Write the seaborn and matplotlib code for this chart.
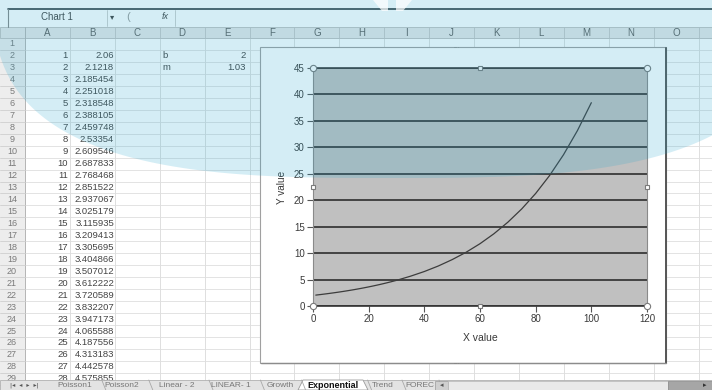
import numpy as np
import seaborn as sns
import matplotlib.pyplot as plt
from matplotlib.patches import Rectangle, Polygon

# --- data ---
# sheet columns A and B (rows 2..29)
col_a = list(range(1, 29))
col_b = ['2.06', '2.1218', '2.185454', '2.251018', '2.318548', '2.388105', '2.459748',
         '2.53354', '2.609546', '2.687833', '2.768468', '2.851522', '2.937067', '3.025179',
         '3.115935', '3.209413', '3.305695', '3.404866', '3.507012', '3.612222', '3.720589',
         '3.832207', '3.947173', '4.065588', '4.187556', '4.313183', '4.442578', '4.575855']
param_names = ['b', 'm']
param_values = ['2', '1.03']

# curve points: table rows, then values
curve_x = col_a + [30, 35, 40, 45, 50, 55, 60, 65, 70, 75, 80, 85, 90, 95, 100]
curve_y = [float(v) for v in col_b] + [4.85, 5.63, 6.52, 7.56, 8.77, 10.16, 11.78, 13.66,
                                       15.84, 18.36, 21.28, 24.67, 28.60, 33.16, 38.44]

x_ticks = [0, 20, 40, 60, 80, 100, 120]
y_ticks = [0, 5, 10, 15, 20, 25, 30, 35, 40, 45]
col_names = ['A', 'B', 'C', 'D', 'E', 'F', 'G', 'H', 'I', 'J', 'K', 'L', 'M', 'N', 'O']
sheet_tabs = ['Poisson1', 'Poisson2', 'Linear - 2', 'LINEAR- 1', 'Growth', 'Exponential', 'Trend', 'FOREC']
tab_centers = [75, 122, 177, 231, 280, 333, 383, 420]

sns.set_style('white')
plt.rcParams['font.family'] = ['Liberation Sans', 'DejaVu Sans']

W, H = 712, 390
fig = plt.figure(figsize=(W / 100, H / 100), dpi=100)

# background axes in pixel coordinates for the worksheet
bg = fig.add_axes([0, 0, 1, 1], zorder=0)
bg.set_xlim(0, W)
bg.set_ylim(H, 0)
bg.axis('off')

row_hdr_w = 25
col_w = 44.9
hdr_top, hdr_bot = 27, 38
row_h = 11.96
txt_col = '#444444'


def row_center(r):
    return hdr_bot + (r - 1) * row_h + row_h / 2


bg.add_patch(Rectangle((0, 0), W, H, color='white', zorder=0))

# cell grid
for i in range(len(col_names) + 2):
    x = row_hdr_w + i * col_w
    bg.plot([x, x], [hdr_bot, 380], color='#d9d9d9', lw=0.6, zorder=1)
for r in range(31):
    y = hdr_bot + r * row_h
    bg.plot([0, W], [y, y], color='#dedede', lw=0.6, zorder=1)

# row headers
bg.add_patch(Rectangle((0, hdr_bot), row_hdr_w, 380 - hdr_bot, fc='#ededed', ec='none', zorder=1.5))
bg.plot([row_hdr_w, row_hdr_w], [hdr_top, 380], color='#b5b5b5', lw=0.7, zorder=1.6)
for r in range(1, 30):
    bg.text(12, row_center(r), str(r), ha='center', va='center', fontsize=6.5, color='#7a7a7a', zorder=2)
    bg.plot([0, row_hdr_w], [hdr_bot + r * row_h] * 2, color='#cfcfcf', lw=0.6, zorder=1.6)

# column headers
bg.add_patch(Rectangle((0, hdr_top), W, hdr_bot - hdr_top, fc='#e7e7e7', ec='#bdbdbd', lw=0.6, zorder=1.5))
for i, name in enumerate(col_names):
    x0 = row_hdr_w + i * col_w
    bg.text(x0 + col_w / 2, (hdr_top + hdr_bot) / 2 + 0.5, name, ha='center', va='center',
            fontsize=7, color='#606060', zorder=2)
    bg.plot([x0 + col_w, x0 + col_w], [hdr_top, hdr_bot], color='#c4c4c4', lw=0.6, zorder=1.6)

# formula bar
bg.plot([8, W], [9, 9], color='#2f3b40', lw=1.2, zorder=2)
bg.plot([8, 8], [9, hdr_top], color='#888888', lw=0.8, zorder=2)
bg.text(57, 17.5, 'Chart 1', ha='center', va='center', fontsize=7, color=txt_col, zorder=2)
bg.text(112, 17.5, '▾', ha='center', va='center', fontsize=6, color=txt_col, zorder=2)
bg.plot([107, 107], [10, 26], color='#c8c8c8', lw=0.6, zorder=2)
bg.plot([175, 175], [10, 26], color='#c8c8c8', lw=0.6, zorder=2)
bg.text(128, 17, '(', ha='center', va='center', fontsize=8, color='#9a9a9a', zorder=2)
bg.text(165, 16.5, 'fx', ha='center', va='center', fontsize=6.5, style='italic', color=txt_col, zorder=2)

# sheet values
for i, (a, b) in enumerate(zip(col_a, col_b)):
    y = row_center(i + 2)
    bg.text(68, y, str(a), ha='right', va='center', fontsize=6.8, color=txt_col, zorder=2)
    bg.text(114, y, b, ha='right', va='center', fontsize=6.8, color=txt_col, zorder=2)
for i, (n, v) in enumerate(zip(param_names, param_values)):
    y = row_center(i + 2)
    bg.text(162, y, n, ha='left', va='center', fontsize=6.8, color=txt_col, zorder=2)
    bg.text(246, y, v, ha='right', va='center', fontsize=6.8, color=txt_col, zorder=2)

# sheet tab bar
bg.add_patch(Rectangle((0, 380), W, H - 380, fc='#e3e3e3', ec='#b0b0b0', lw=0.6, zorder=3))
bg.text(24, 385, '|◂  ◂  ▸  ▸|', ha='center', va='center', fontsize=4.5, color='#555555', zorder=4,
        family=['DejaVu Sans'])
for name, cx in zip(sheet_tabs, tab_centers):
    active = name == 'Exponential'
    if active:
        bg.add_patch(Polygon([[303, 380], [363, 380], [368, 390], [298, 390]], closed=True,
                             fc='white', ec='#9a9a9a', lw=0.6, zorder=3.5))
    bg.text(cx, 385.5, name, ha='center', va='center', fontsize=6.5 if active else 6,
            color='#111111' if active else '#777777', weight='bold' if active else 'normal', zorder=4)
    bg.plot([cx + len(name) * 2.6 + 6, cx + len(name) * 2.6 + 10], [380, 390], color='#a8a8a8', lw=0.6, zorder=4)
# horizontal scroll bar
bg.add_patch(Rectangle((435, 380.5), 13, 9.5, fc='#cfcfcf', ec='#9a9a9a', lw=0.5, zorder=4))
bg.text(441.5, 385.5, '◂', ha='center', va='center', fontsize=5, color='#555555', zorder=5, family=['DejaVu Sans'])
bg.add_patch(Rectangle((448, 380.5), 220, 9.5, fc='#e9e9e9', ec='#b5b5b5', lw=0.5, zorder=4))
bg.add_patch(Rectangle((668, 380.5), 44, 9.5, fc='#a6a6a6', ec='#8a8a8a', lw=0.5, zorder=4))
bg.text(705, 385.5, '▸', ha='center', va='center', fontsize=5, color='#333333', zorder=5, family=['DejaVu Sans'])

# chart area
bg.add_patch(Rectangle((260, 46.5), 406, 316.5, fc='white', ec='#a0a0a0', lw=0.8, zorder=5))
bg.plot([666, 666], [48, 363], color='#555555', lw=1.4, zorder=6)
bg.plot([261, 666], [363, 363], color='#8c8c8c', lw=1.0, zorder=6)
bg.text(457, 46, '....', ha='center', va='center', fontsize=4, color='#777777', zorder=6)
bg.text(457, 362, '....', ha='center', va='center', fontsize=4, color='#777777', zorder=6)

# plot area
px0, px1, py0, py1 = 313, 647, 68, 306
ax = fig.add_axes([px0 / W, (H - py1) / H, (px1 - px0) / W, (py1 - py0) / H], zorder=2)
ax.set_facecolor('#c0c0c0')
sns.lineplot(x=curve_x, y=curve_y, ax=ax, color='#3c3c3c', lw=0.9, zorder=3)
ax.set_xlim(0, 120)
ax.set_ylim(0, 45)
ax.set_xticks(x_ticks)
ax.set_yticks(y_ticks)
ax.yaxis.grid(True, color='#2e2e2e', lw=1.2)
ax.xaxis.grid(False)
ax.set_axisbelow(True)
ax.tick_params(axis='both', labelsize=7, labelcolor='#3a3a3a', color='#555555', length=4, width=0.8,
               direction='out', pad=2)
ax.tick_params(axis='y', left=True)
ax.tick_params(axis='x', bottom=True)
for side in ['left', 'right']:
    ax.spines[side].set_color('#8a8a8a')
    ax.spines[side].set_linewidth(0.8)
ax.spines['top'].set_color('#3a3a3a')
ax.spines['top'].set_linewidth(1.2)
ax.spines['bottom'].set_color('#333333')
ax.spines['bottom'].set_linewidth(1.2)
ax.set_xlabel('X value', fontsize=7.5, color='#3a3a3a')
ax.set_ylabel('Y value', fontsize=7.2, color='#3a3a3a')
ax.xaxis.set_label_coords(0.5, -(333 - py1) / (py1 - py0))
ax.yaxis.set_label_coords(-(313 - 287) / (px1 - px0), 0.5)

# selection handles of the plot area
ax.plot([0, 1, 0, 1], [0, 0, 1, 1], 'o', ms=4.5, mfc='white', mec='#7a7a7a', mew=0.8,
        transform=ax.transAxes, clip_on=False, zorder=6)
ax.plot([0.5, 0, 1, 0.5], [1, 0.5, 0.5, 0], 's', ms=3.2, mfc='white', mec='#7a7a7a', mew=0.8,
        transform=ax.transAxes, clip_on=False, zorder=6)

# light blue watermark over the top of the screen
ov = fig.add_axes([0, 0, 1, 1], zorder=10)
ov.set_xlim(0, W)
ov.set_ylim(H, 0)
ov.axis('off')
ov.patch.set_alpha(0)
cx, a, b, cy = 392, 400, 200, -22
t = np.linspace(-1, 1, 400)
edge_x = cx + a * t
edge_y = cy + b * (1 - np.abs(t) ** 3) ** (1 / 3)
shape = np.column_stack([np.r_[edge_x, cx + a, cx - a], np.r_[edge_y, -30, -30]])
ov.add_patch(Polygon(shape, closed=True, fc='#2aa8cf', ec='none', alpha=0.2))
ov.add_patch(Polygon([[373, 0], [388, 0], [388, 11], [382, 11]], closed=True, fc='white', ec='none', alpha=0.7))
ov.add_patch(Polygon([[396, 0], [412, 0], [403, 11], [396, 11]], closed=True, fc='white', ec='none', alpha=0.7))

fig.savefig('out.png', dpi=100)
